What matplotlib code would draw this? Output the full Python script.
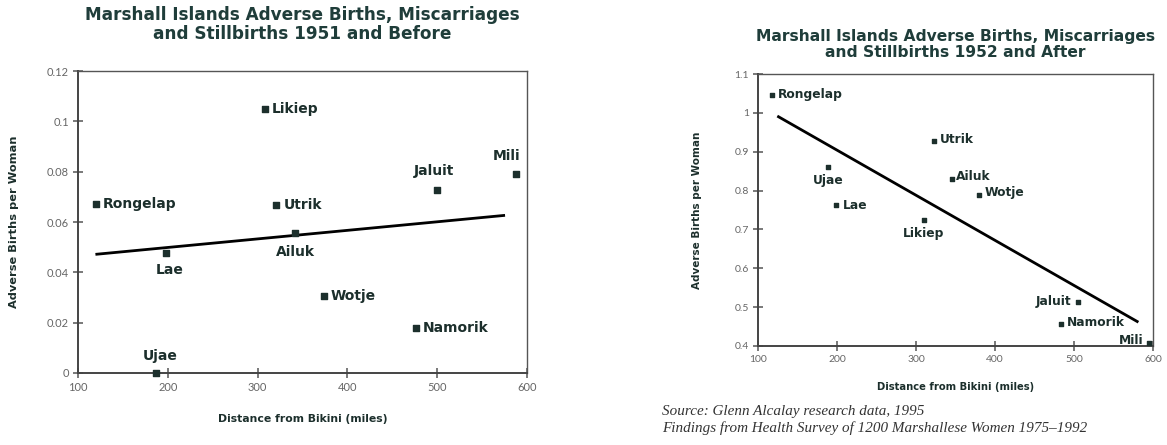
import matplotlib
matplotlib.use("Agg")
import matplotlib.pyplot as plt

# --- 1951 and before ---
islands_a = ["Rongelap", "Lae", "Ujae", "Likiep", "Utrik", "Ailuk", "Wotje", "Jaluit", "Namorik", "Mili"]
dist_a = [120, 198, 187, 308, 321, 342, 374, 500, 476, 588]
rate_a = [0.067, 0.0475, 0.0, 0.105, 0.0666, 0.0558, 0.0306, 0.0729, 0.0177, 0.0791]
trend_a_x = [121, 574]
trend_a_y = [0.0472, 0.0626]

# --- 1952 and after ---
islands_b = ["Rongelap", "Ujae", "Lae", "Likiep", "Utrik", "Ailuk", "Wotje", "Jaluit", "Namorik", "Mili"]
dist_b = [118, 189, 199, 310, 323, 345, 380, 505, 484, 595]
rate_b = [1.046, 0.861, 0.762, 0.723, 0.928, 0.829, 0.789, 0.512, 0.456, 0.408]
trend_b_x = [126, 580]
trend_b_y = [0.99, 0.463]

# label placement (offset in points, ha, va)
place_a = {"Rongelap": (5, 0, "left", "center"), "Lae": (3, -7, "center", "top"),
           "Ujae": (3, 7, "center", "bottom"), "Likiep": (5, 0, "left", "center"),
           "Utrik": (5, 0, "left", "center"), "Ailuk": (0, -9, "center", "top"),
           "Wotje": (5, 0, "left", "center"), "Jaluit": (-2, 8, "center", "bottom"),
           "Namorik": (5, 0, "left", "center"), "Mili": (-7, 8, "center", "bottom")}
place_b = {"Rongelap": (4, 0, "left", "center"), "Ujae": (0, -5, "center", "top"),
           "Lae": (5, 0, "left", "center"), "Likiep": (0, -5, "center", "top"),
           "Utrik": (4, 1, "left", "center"), "Ailuk": (3, 2, "left", "center"),
           "Wotje": (4, 2, "left", "center"), "Jaluit": (-5, 1, "right", "center"),
           "Namorik": (4, 1, "left", "center"), "Mili": (-4, 2, "right", "center")}

ink = "#1c2f2c"
tick_grey = "#666666"
bold_font = ["DejaVu Sans"]
tick_font = ["Lato", "DejaVu Sans"]

fig = plt.figure(figsize=(11.67, 4.45), dpi=100)
ax1 = fig.add_axes([0.0668, 0.1618, 0.3848, 0.6786])
ax2 = fig.add_axes([0.6495, 0.2225, 0.3385, 0.6112])


def style_axes(ax, fs):
    for side in ["left", "bottom"]:
        ax.spines[side].set_color("#444444")
        ax.spines[side].set_linewidth(1.4)
    for side in ["top", "right"]:
        ax.spines[side].set_color("#555555")
        ax.spines[side].set_linewidth(1.0)
    ax.tick_params(direction="inout", length=7, width=1.1, color="#555555",
                   labelsize=fs, labelcolor=tick_grey, pad=3)
    for lab in ax.get_xticklabels() + ax.get_yticklabels():
        lab.set_family(tick_font)


# left chart
ax1.scatter(dist_a, rate_a, marker="s", s=14, color=ink, zorder=3, clip_on=False)
ax1.plot(trend_a_x, trend_a_y, color="black", lw=2)
for name, x, y in zip(islands_a, dist_a, rate_a):
    dx, dy, ha, va = place_a[name]
    ax1.annotate(name, (x, y), xytext=(dx, dy), textcoords="offset points",
                 ha=ha, va=va, fontsize=10, fontweight="bold", color=ink, family=bold_font)
ax1.set_xlim(100, 600)
ax1.set_ylim(0, 0.12)
ax1.set_xticks([100, 200, 300, 400, 500, 600])
ax1.set_yticks([0, 0.02, 0.04, 0.06, 0.08, 0.1, 0.12])
ax1.set_yticklabels(["0", "0.02", "0.04", "0.06", "0.08", "0.1", "0.12"])
style_axes(ax1, 8)
ax1.set_xlabel("Distance from Bikini (miles)", fontsize=7.8, fontweight="bold",
               color=ink, family=bold_font, labelpad=15)
ax1.set_ylabel("Adverse Births per Woman", fontsize=8.2, fontweight="bold",
               color=ink, family=bold_font, labelpad=20)
ax1.set_title("Marshall Islands Adverse Births, Miscarriages\nand Stillbirths 1951 and Before",
              fontsize=12.2, fontweight="bold", color="#1f3d3a", family=bold_font,
              linespacing=1.1, pad=23)

# right chart
ax2.scatter(dist_b, rate_b, marker="s", s=11, color=ink, zorder=3, clip_on=False)
ax2.plot(trend_b_x, trend_b_y, color="black", lw=2)
for name, x, y in zip(islands_b, dist_b, rate_b):
    dx, dy, ha, va = place_b[name]
    ax2.annotate(name, (x, y), xytext=(dx, dy), textcoords="offset points",
                 ha=ha, va=va, fontsize=8.8, fontweight="bold", color=ink, family=bold_font)
ax2.set_xlim(100, 600)
ax2.set_ylim(0.4, 1.1)
ax2.set_xticks([100, 200, 300, 400, 500, 600])
ax2.set_yticks([0.4, 0.5, 0.6, 0.7, 0.8, 0.9, 1.0, 1.1])
ax2.set_yticklabels(["0.4", "0.5", "0.6", "0.7", "0.8", "0.9", "1", "1.1"])
style_axes(ax2, 7.5)
ax2.set_xlabel("Distance from Bikini (miles)", fontsize=7.2, fontweight="bold",
               color=ink, family=bold_font, labelpad=13)
ax2.set_ylabel("Adverse Births per Woman", fontsize=7.5, fontweight="bold",
               color=ink, family=bold_font, labelpad=23)
ax2.set_title("Marshall Islands Adverse Births, Miscarriages\nand Stillbirths 1952 and After",
              fontsize=11.2, fontweight="bold", color="#1f3d3a", family=bold_font,
              linespacing=1.1, pad=12)

fig.text(662 / 1167, 1 - 412 / 445, "Source: Glenn Alcalay research data, 1995",
         fontsize=10.9, style="italic", family="Liberation Serif", color="#333333", va="center")
fig.text(662 / 1167, 1 - 428 / 445, "Findings from Health Survey of 1200 Marshallese Women 1975\u20131992",
         fontsize=10.9, style="italic", family="Liberation Serif", color="#333333", va="center")

fig.savefig("out.png", dpi=100)
